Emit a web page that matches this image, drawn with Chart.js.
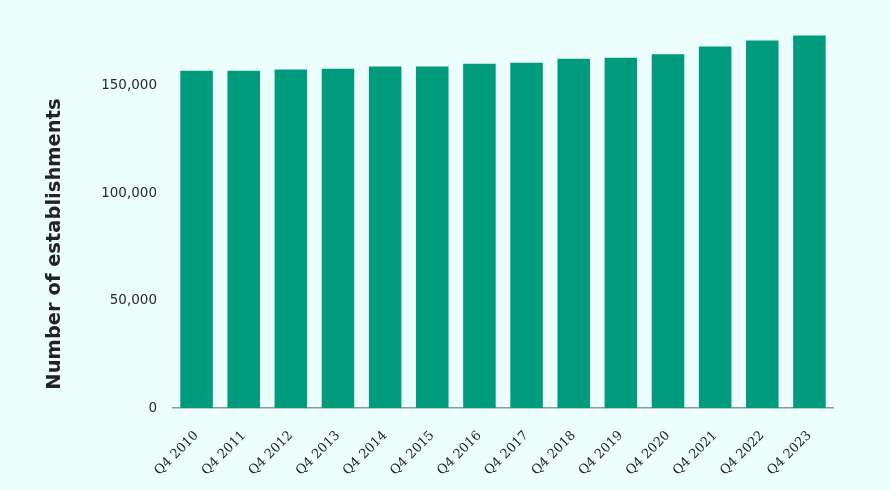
<!DOCTYPE html>
<html>
<head>
<meta charset="utf-8">
<script src="https://cdn.jsdelivr.net/npm/chart.js@4.4.0/dist/chart.umd.min.js"></script>
<style>
  html, body { margin: 0; padding: 0; background: #ecfffd; }
  #wrap { width: 890px; height: 490px; position: relative; }
</style>
</head>
<body>
<div id="wrap"><canvas id="c" width="890" height="490"></canvas></div>
<script>
const categories = ["Q4 2010","Q4 2011","Q4 2012","Q4 2013","Q4 2014","Q4 2015","Q4 2016","Q4 2017","Q4 2018","Q4 2019","Q4 2020","Q4 2021","Q4 2022","Q4 2023"];
const establishments = [157000,157000,157500,157900,159000,159000,160200,160700,162600,163000,164600,168200,171000,173400];
const yTicks = [0, 50000, 100000, 150000];
const yTitle = "Number of establishments";

const PAD = { left: 38, right: 57 };

// Axis title drawn as canvas text, centred like the reference (slightly below the axis middle)
const yTitlePlugin = {
  id: 'yTitlePlugin',
  afterDraw(chart) {
    const ctx = chart.ctx;
    const y = chart.scales.y;
    const cy = y.getPixelForValue(0) - 164;
    ctx.save();
    ctx.translate(55, cy);
    ctx.rotate(-Math.PI / 2);
    ctx.font = 'bold 19.5px "DejaVu Sans"';
    ctx.fillStyle = '#222';
    ctx.textAlign = 'center';
    ctx.textBaseline = 'middle';
    ctx.fillText(yTitle, 0, 0);
    ctx.restore();
  }
};

new Chart(document.getElementById('c'), {
  type: 'bar',
  data: {
    labels: categories,
    datasets: [{
      data: establishments,
      backgroundColor: '#009b7d',
      borderWidth: 0,
      barPercentage: 0.69,
      categoryPercentage: 1.0
    }]
  },
  options: {
    responsive: false,
    animation: false,
    layout: { padding: { left: PAD.left, top: 32, right: PAD.right, bottom: 0 } },
    plugins: { legend: { display: false }, tooltip: { enabled: false } },
    scales: {
      x: {
        grid: { display: false, drawTicks: false },
        border: { display: true, color: '#8a9a98', width: 1.5 },
        ticks: {
          color: '#222',
          font: { family: 'DejaVu Serif', size: 13 },
          minRotation: 45, maxRotation: 45,
          padding: 20
        },
        afterFit: (s) => { s.height = 490 - 408; }
      },
      y: {
        min: 0, max: 175000,
        grid: { display: false, drawTicks: false },
        border: { display: false },
        afterBuildTicks: (s) => { s.ticks = yTicks.map(v => ({ value: v })); },
        ticks: {
          color: '#2a2a2a',
          font: { family: 'DejaVu Sans', size: 13.5 },
          padding: 16,
          callback: (v) => v.toLocaleString('en-US')
        },
        afterFit: (s) => { s.width = 173 - PAD.left; }
      }
    }
  },
  plugins: [yTitlePlugin]
});
</script>
</body>
</html>
